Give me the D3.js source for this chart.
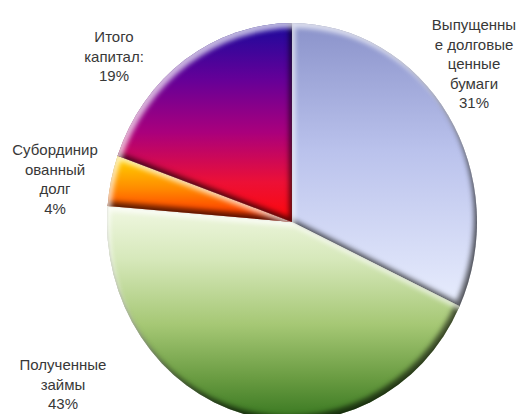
<!DOCTYPE html>
<html>
<head>
<meta charset="utf-8">
<script src="https://cdn.jsdelivr.net/npm/d3@7"></script>
<style>
  html, body { margin: 0; padding: 0; background: #fff; }
  svg { display: block; }
</style>
</head>
<body>
<svg id="chart" width="524" height="414"></svg>
<script>
// Structure of liabilities and capital, %
const categories = ["Выпущенные долговые ценные бумаги", "Полученные займы", "Субординированный долг", "Итого капитал:"];
const values = [31, 43, 4, 19];
// Category names as they wrap inside the label boxes
const labelLines = [
  ["Выпущенны", "е долговые", "ценные", "бумаги"],
  ["Полученные", "займы"],
  ["Субординир", "ованный", "долг"],
  ["Итого", "капитал:"]
];

// Vertical gradient for every slice (top -> bottom)
const sliceGradients = [
  [[0, "#8a92ca"], [0.45, "#bac2ec"], [1, "#e8edfd"]],
  [[0, "#f1f8e2"], [0.25, "#d6e8ba"], [0.55, "#a6c875"], [0.8, "#6a9c42"], [1, "#36761f"]],
  [[0, "#ffd800"], [0.5, "#ff8a00"], [1, "#ff2400"]],
  [[0, "#1a0a9c"], [0.28, "#640098"], [0.55, "#aa007c"], [0.8, "#ec1036"], [1, "#ff0808"]]
];

// Label anchors: centre x and first baseline
const labelLayout = [
  { x: 474, y: 30 },
  { x: 63, y: 370 },
  { x: 55, y: 155 },
  { x: 114, y: 42 }
];

const cx = 292, cy = 222, radius = 185, yStretch = 1.075;
const lineHeight = 19.5;

const svg = d3.select("#chart");
const defs = svg.append("defs");

sliceGradients.forEach((stops, i) => {
  const g = defs.append("linearGradient")
    .attr("id", "slice-grad-" + i)
    .attr("x1", 0).attr("y1", 0).attr("x2", 0).attr("y2", 1);
  stops.forEach(([o, c]) => g.append("stop").attr("offset", o).attr("stop-color", c));
});

// Inset bevel: light along upward-facing edges, dark along downward-facing edges
const bevel = defs.append("filter")
  .attr("id", "bevel")
  .attr("x", "-15%").attr("y", "-15%").attr("width", "130%").attr("height", "130%")
  .attr("color-interpolation-filters", "sRGB");
bevel.append("feComponentTransfer").attr("in", "SourceAlpha").attr("result", "inv")
  .append("feFuncA").attr("type", "table").attr("tableValues", "1 0");
bevel.append("feGaussianBlur").attr("in", "inv").attr("stdDeviation", 2.5).attr("result", "invBlur");

function edge(dx, dy, color, opacity, name) {
  bevel.append("feOffset").attr("in", "invBlur").attr("dx", dx).attr("dy", dy).attr("result", name + "Off");
  bevel.append("feFlood").attr("flood-color", color).attr("flood-opacity", opacity).attr("result", name + "Flood");
  bevel.append("feComposite").attr("in", name + "Flood").attr("in2", name + "Off").attr("operator", "in").attr("result", name + "Inv");
  bevel.append("feComposite").attr("in", name + "Inv").attr("in2", "SourceAlpha").attr("operator", "in").attr("result", name);
}
edge(-3, -5, "#000", 0.6, "darkEdge");
edge(3, 5, "#fff", 0.7, "lightEdge");

bevel.append("feGaussianBlur").attr("in", "inv").attr("stdDeviation", 1.2).attr("result", "rimBlur");
bevel.append("feFlood").attr("flood-color", "#000").attr("flood-opacity", 0.3).attr("result", "rimFlood");
bevel.append("feComposite").attr("in", "rimFlood").attr("in2", "rimBlur").attr("operator", "in").attr("result", "rimInv");
bevel.append("feComposite").attr("in", "rimInv").attr("in2", "SourceAlpha").attr("operator", "in").attr("result", "rimEdge");

const merge = bevel.append("feMerge");
["SourceGraphic", "rimEdge", "darkEdge", "lightEdge"].forEach(n => merge.append("feMergeNode").attr("in", n));

const pie = d3.pie().sort(null).value(d => d)(values);
const arc = d3.arc().innerRadius(0).outerRadius(radius);

const pieG = svg.append("g")
  .attr("transform", `translate(${cx},${cy}) scale(1,${yStretch})`);

pieG.selectAll("path.slice")
  .data(pie)
  .join("path")
  .attr("class", "slice")
  .attr("d", arc)
  .attr("fill", (d, i) => `url(#slice-grad-${i})`)
  .attr("filter", "url(#bevel)");

// Data labels
const labels = svg.append("g")
  .attr("font-family", "'Liberation Sans', Arial, sans-serif")
  .attr("font-size", 15)
  .attr("fill", "#383838")
  .attr("text-anchor", "middle");

values.forEach((v, i) => {
  const lines = labelLines[i].concat([v + "%"]);
  const t = labels.append("text")
    .attr("x", labelLayout[i].x)
    .attr("y", labelLayout[i].y);
  lines.forEach((ln, j) => {
    t.append("tspan")
      .attr("x", labelLayout[i].x)
      .attr("dy", j === 0 ? 0 : lineHeight)
      .text(ln);
  });
});
</script>
</body>
</html>
